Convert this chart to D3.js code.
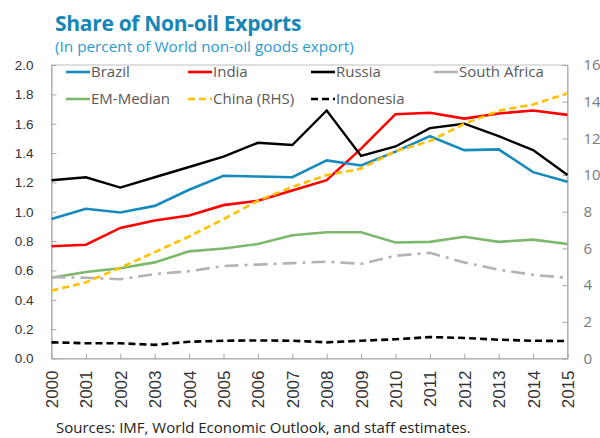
<!DOCTYPE html>
<html>
<head>
<meta charset="utf-8">
<script src="https://cdn.jsdelivr.net/npm/d3@7"></script>
<style>
  body { margin: 0; background: #fff; }
  svg { display: block; font-family: "Open Sans", "Noto Sans", sans-serif; }
</style>
</head>
<body>
<svg id="chart" width="600" height="438"></svg>
<script>
const years = ["2000","2001","2002","2003","2004","2005","2006","2007","2008","2009","2010","2011","2012","2013","2014","2015"];
const brazil = [0.95,1.02,0.995,1.04,1.15,1.245,1.24,1.235,1.35,1.315,1.41,1.515,1.42,1.425,1.27,1.205];
const india = [0.765,0.775,0.89,0.94,0.975,1.045,1.075,1.145,1.215,1.43,1.665,1.675,1.635,1.67,1.69,1.66];
const russia = [1.215,1.235,1.165,1.235,1.305,1.375,1.47,1.455,1.69,1.38,1.445,1.57,1.6,1.515,1.42,1.25];
const southAfrica = [0.555,0.55,0.54,0.575,0.595,0.63,0.64,0.65,0.66,0.645,0.7,0.72,0.655,0.605,0.57,0.55];
const emMedian = [0.55,0.59,0.615,0.655,0.73,0.75,0.78,0.84,0.86,0.86,0.79,0.795,0.83,0.795,0.81,0.78];
const chinaRHS = [3.7,4.15,4.95,5.8,6.65,7.6,8.6,9.35,10.0,10.35,11.3,11.85,12.8,13.5,13.85,14.45];
const indonesia = [0.11,0.104,0.104,0.093,0.114,0.121,0.123,0.121,0.11,0.121,0.131,0.146,0.14,0.128,0.121,0.119];
const leftTicks = [0,0.2,0.4,0.6,0.8,1.0,1.2,1.4,1.6,1.8,2.0];
const rightTicks = [0,2,4,6,8,10,12,14,16];
const seriesNames = ["Brazil","India","Russia","South Africa","EM-Median","China (RHS)","Indonesia"];

const svg = d3.select("#chart");
const X0 = 51.5, X1 = 567.5, Y0 = 358.5, Y1 = 65;
const x = d3.scalePoint().domain(years).range([X0, X1]);
const yL = d3.scaleLinear().domain([0, 2]).range([Y0, Y1]);
const yR = d3.scaleLinear().domain([0, 16]).range([Y0, Y1]);
const txt = "#595959";
const narrow = "'Liberation Sans Narrow', 'Arial Narrow', 'Liberation Sans', sans-serif";

// title
svg.append("text").attr("x", 55).attr("y", 31).attr("fill", "#1587b7")
  .attr("font-size", 21).attr("font-weight", "bold").attr("letter-spacing", -0.3)
  .text("Share of Non-oil Exports");
svg.append("text").attr("x", 55).attr("y", 52).attr("fill", "#2a9ad0")
  .attr("font-size", 15.3).text("(In percent of World non-oil goods export)");

// frame
svg.append("rect").attr("x", X0).attr("y", Y1).attr("width", X1 - X0).attr("height", Y0 - Y1)
  .attr("fill", "none").attr("stroke", "#bfbfbf").attr("stroke-width", 1);

// left axis
const gL = svg.append("g").attr("transform", `translate(${X0},0)`)
  .call(d3.axisLeft(yL).tickValues(leftTicks).tickFormat(d3.format(".1f")).tickSizeInner(-5).tickSizeOuter(0).tickPadding(18));
gL.select(".domain").attr("stroke", "#a6a6a6");
gL.selectAll(".tick line").attr("stroke", "#a6a6a6");
gL.selectAll("text").attr("fill", "#333").attr("font-size", 13.5).attr("font-family", "'Liberation Sans', Arial, sans-serif");

// right axis
const gR = svg.append("g").attr("transform", `translate(${X1},0)`)
  .call(d3.axisRight(yR).tickValues(rightTicks).tickSizeInner(-5).tickSizeOuter(0).tickPadding(16));
gR.select(".domain").attr("stroke", "#a6a6a6");
gR.selectAll(".tick line").attr("stroke", "#a6a6a6");
gR.selectAll("text").attr("fill", "#7a7a7a").attr("font-size", 15).attr("font-family", "Open Sans, sans-serif");

// x axis
const gX = svg.append("g").attr("transform", `translate(0,${Y0})`)
  .call(d3.axisBottom(x).tickSizeInner(-5).tickSizeOuter(0).tickPadding(8));
gX.select(".domain").attr("stroke", "#a6a6a6");
gX.selectAll(".tick line").attr("stroke", "#a6a6a6");
gX.selectAll("text").attr("fill", "#333").attr("font-size", 17).attr("font-family", narrow)
  .attr("transform", "rotate(-90)").attr("text-anchor", "end").attr("dy", "0.35em").attr("x", -12).attr("y", 0);

// series
const series = [
  {name: seriesNames[4], data: emMedian, scale: yL, color: "#7cb96c", width: 2.6, dash: null},
  {name: seriesNames[3], data: southAfrica, scale: yL, color: "#b3b3b3", width: 2.6, dash: "14,6,3,6"},
  {name: seriesNames[6], data: indonesia, scale: yL, color: "#000", width: 2.6, dash: "7,4"},
  {name: seriesNames[1], data: india, scale: yL, color: "#ff0000", width: 2.6, dash: null},
  {name: seriesNames[0], data: brazil, scale: yL, color: "#168abd", width: 2.6, dash: null},
  {name: seriesNames[2], data: russia, scale: yL, color: "#000", width: 2.4, dash: null},
  {name: seriesNames[5], data: chinaRHS, scale: yR, color: "#ffc000", width: 2.6, dash: "7,4"}
];
series.forEach(s => {
  const line = d3.line().x((d, i) => x(years[i])).y(d => s.scale(d));
  svg.append("path").datum(s.data).attr("d", line).attr("fill", "none")
    .attr("stroke", s.color).attr("stroke-width", s.width)
    .attr("stroke-dasharray", s.dash).attr("stroke-linejoin", "miter");
});

// legend
const legend = [
  {name: "Brazil", color: "#168abd", dash: null, lx: 66, ly: 72},
  {name: "India", color: "#ff0000", dash: null, lx: 188, ly: 72},
  {name: "Russia", color: "#000", dash: null, lx: 311, ly: 72},
  {name: "South Africa", color: "#b3b3b3", dash: null, lx: 434, ly: 72},
  {name: "EM-Median", color: "#7cb96c", dash: null, lx: 66, ly: 99},
  {name: "China (RHS)", color: "#ffc000", dash: "7,4", lx: 188, ly: 99},
  {name: "Indonesia", color: "#000", dash: "7,4", lx: 311, ly: 99}
];
const lg = svg.append("g");
legend.forEach(l => {
  lg.append("line").attr("x1", l.lx).attr("x2", l.lx + 24).attr("y1", l.ly).attr("y2", l.ly)
    .attr("stroke", l.color).attr("stroke-width", 2.6).attr("stroke-dasharray", l.dash);
  lg.append("text").attr("x", l.lx + 25).attr("y", l.ly).attr("dy", "0.35em")
    .attr("fill", txt).attr("font-size", 15).text(l.name);
});

// footer
svg.append("text").attr("x", 56).attr("y", 433).attr("fill", "#222").attr("font-size", 15)
  .text("Sources: IMF, World Economic Outlook, and staff estimates.");
</script>
</body>
</html>
